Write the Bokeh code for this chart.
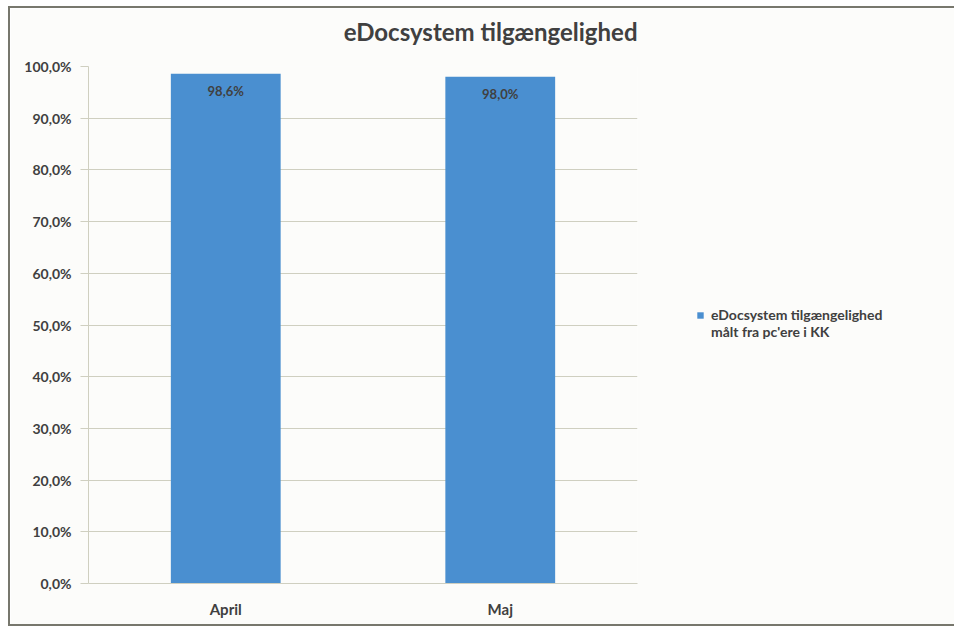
from bokeh.plotting import figure
from bokeh.models import ColumnDataSource, LabelSet, Legend, LegendItem, FixedTicker, CustomJSTickFormatter, Title
from bokeh.embed import file_html
from bokeh.resources import INLINE
from bokeh.core.properties import value

# ---- data ----
months = ["April", "Maj"]
availability = [98.6, 98.0]
value_labels = ["98,6%", "98,0%"]
y_ticks = [0, 10, 20, 30, 40, 50, 60, 70, 80, 90, 100]
chart_title = "eDocsystem tilgængelighed"
series_lines = ["eDocsystem tilgængelighed", "målt fra pc'ere i KK"]

FONT = "Lato"
TXT = "#404040"
GRID = "#cfcfc0"
BAR = "#4a8fd0"
BG = "#fcfcfa"

src = ColumnDataSource(dict(month=months, val=availability, lab=value_labels))

p = figure(x_range=months, y_range=(0, 100), frame_width=549, frame_height=517,
           output_backend="svg", toolbar_location=None, title=None,
           min_border_left=78, min_border_right=313, min_border_top=58, min_border_bottom=41)
p.background_fill_color = BG
p.border_fill_color = BG
p.outline_line_color = None
p.styles = {"margin-left": "8px", "margin-top": "6px", "border": "2px solid #77776d"}

# gap between title and plot area, then the title itself
p.add_layout(Title(text=" ", text_font_size="1px", standoff=18), "above")
p.add_layout(Title(text=chart_title, align="right", text_font=FONT, text_font_style="bold",
                   text_font_size="24px", text_color=TXT, standoff=0), "above")

r = p.vbar(x="month", top="val", width=0.4, source=src, fill_color=BAR, line_color=None)
# empty renderer, only used as a glyph-less second legend line
blank = p.vbar(x=[], top=[], width=0.4, fill_alpha=0, line_alpha=0)

p.add_layout(LabelSet(x="month", y="val", text="lab", source=src, y_offset=-17,
                      text_align="center", text_baseline="middle",
                      text_font=value(FONT), text_font_style="bold",
                      text_font_size="13px", text_color=TXT))

p.yaxis.ticker = FixedTicker(ticks=y_ticks)
p.yaxis.formatter = CustomJSTickFormatter(code="return tick.toFixed(1).replace('.', ',') + '%';")
p.yaxis.major_tick_in = 0
p.yaxis.major_tick_out = 8
p.yaxis.minor_tick_line_color = None
p.yaxis.major_label_standoff = 9
for ax in (p.xaxis, p.yaxis):
    ax.axis_line_color = GRID
    ax.major_tick_line_color = GRID
    ax.major_label_text_font = FONT
    ax.major_label_text_font_style = "bold"
    ax.major_label_text_font_size = "14px"
    ax.major_label_text_color = TXT
p.xaxis.major_tick_in = 0
p.xaxis.major_tick_out = 0
p.xaxis.major_label_standoff = 16
p.xaxis.major_label_text_font_size = "15px"

p.xgrid.grid_line_color = None
p.ygrid.grid_line_color = GRID
p.ygrid.ticker = FixedTicker(ticks=y_ticks)

legend = Legend(items=[LegendItem(label=series_lines[0], renderers=[r]),
                       LegendItem(label=series_lines[1], renderers=[blank])],
                location=(59, 243), padding=0, margin=0, spacing=-3,
                border_line_color=None, background_fill_alpha=0,
                glyph_width=8, glyph_height=8, label_standoff=7, label_height=14,
                label_text_font=FONT, label_text_font_style="bold",
                label_text_font_size="14px", label_text_color=TXT,
                label_text_line_height=0.85)
p.add_layout(legend, "right")

open("out.html", "w").write(file_html(p, INLINE))
